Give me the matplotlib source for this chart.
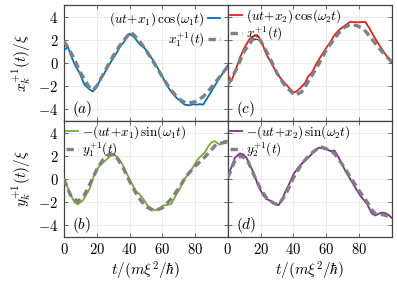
import numpy as np
import matplotlib
matplotlib.use("Agg")
from matplotlib import pyplot as plt

plt.rcParams['mathtext.fontset'] = 'cm'
plt.rcParams['font.family'] = 'serif'
plt.rcParams['font.serif'] = ['cmr10', 'DejaVu Serif']
plt.rcParams['axes.formatter.use_mathtext'] = True
plt.rcParams['axes.unicode_minus'] = True

# panel (a): x-component, particle 1
t_a = [0, 2.4, 4.4, 7, 9.5, 12.5, 15, 17.6, 20, 21.7, 25, 27.8, 31, 34, 37, 40, 43, 46, 49,
       51.3, 54, 56.4, 59.5, 62.5, 65.5, 68.6, 71, 73.7, 77, 79, 80.8, 83, 84.9, 88, 91, 94, 97, 100]
sim_a = [1.05, 1.4, 0.6, -0.26, -0.85, -1.87, -2.2, -2.46, -2.1, -1.58, -0.8, -0.1, 0.6, 1.34, 1.9,
         2.52, 2.2, 1.64, 1.3, 0.9, 0.3, -0.26, -1.0, -1.87, -2.5, -3.0, -3.3, -3.6, -3.65, -3.55,
         -3.6, -3.55, -3.6, -2.9, -2.2, -1.5, -0.85, -0.2]
tt_a = [0, 5, 10, 15, 17.6, 20, 25, 30, 35, 40.7, 45, 50, 55, 60, 65, 70, 74.7, 80, 85, 90, 95, 100]
th_a = [1.9, 0.7, -0.8, -2.0, -2.35, -2.0, -0.7, 0.6, 1.7, 2.66, 2.1, 1.1, 0.0, -1.2, -2.3, -3.1,
        -3.48, -3.35, -2.9, -2.1, -1.2, -0.3]

# panel (c): x-component, particle 2
t_c = [0, 2.2, 5.2, 7.4, 10.2, 13.3, 16.6, 18.5, 20.7, 23.4, 26.5, 29.5, 32, 34.5, 37, 40, 42,
       44.2, 47.1, 49.1, 51.2, 53.5, 56.3, 59.5, 62.4, 65, 67.5, 71.6, 74.6, 79, 83.8, 86.5, 89,
       92.5, 96, 100]
sim_c = [-1.1, -1.55, -0.41, 0.47, 1.34, 2.08, 2.37, 2.3, 1.78, 0.76, 0.0, -0.8, -1.3, -1.7, -2.1,
         -2.55, -2.45, -2.16, -1.72, -1.14, -0.85, -0.2, 0.47, 1.2, 1.78, 2.4, 2.8, 3.25, 3.54, 3.5,
         3.54, 2.95, 2.3, 1.5, 0.76, 0.0]
tt_c = [0, 5, 10, 15, 17.6, 20, 25, 30, 35, 41, 45, 50, 55, 60, 65, 70, 75, 79, 83, 87, 91, 95, 100]
th_c = [-1.87, -0.6, 1.0, 2.0, 2.17, 1.9, 0.6, -0.9, -2.0, -2.8, -2.5, -1.4, -0.2, 1.1, 2.1, 3.0,
        3.33, 3.2, 2.9, 2.2, 1.49, 0.8, 0.1]

# panel (b): y-component, particle 1
t_b = [0, 4.4, 6.4, 8.4, 11.5, 13.5, 15.6, 18.7, 21.7, 25.8, 29.8, 32.9, 35.5, 38, 42, 44.2, 46,
       48.3, 51.3, 55.4, 58, 60.4, 62.5, 65.5, 67.5, 70.6, 73.5, 76.8, 79.5, 81.8, 86, 88, 90, 92,
       95, 96.5, 98, 100]
sim_b = [0, -1.43, -2.0, -2.2, -1.86, -1.4, -0.86, 0.43, 1.14, 1.65, 2.18, 1.84, 1.3, 0.55, -0.57,
         -1.1, -1.3, -1.72, -2.35, -2.7, -2.6, -2.29, -2.25, -2.15, -1.6, -0.86, 0.0, 0.57, 1.2,
         1.72, 2.29, 2.8, 3.14, 3.26, 2.95, 3.15, 3.28, 3.3]
tt_b = [0, 4, 8.5, 12, 16, 20, 24, 28, 32, 36, 40, 45, 50, 55, 60, 65, 70, 75, 80, 84, 88, 93,
        98, 100]
th_b = [0, -1.4, -1.95, -1.5, -0.4, 0.8, 1.7, 2.17, 1.9, 1.0, -0.2, -1.5, -2.4, -2.75, -2.5, -1.8,
        -0.8, 0.3, 1.1, 1.6, 2.2, 3.0, 3.14, 3.2]

# panel (d): y-component, particle 2
t_d = [0, 4.3, 7.3, 9.5, 11.4, 13.5, 15.5, 18.5, 21.6, 23.7, 25.7, 28.7, 31, 33, 34.9, 37.5,
       40, 43, 46, 48.5, 52, 55.5, 58, 60.4, 62.5, 65, 67, 69.5, 72, 74.6, 77.5, 80.7, 84.8, 87.9,
       89.9, 92, 94, 96, 98, 100]
sim_d = [0.2, 1.83, 2.2, 2.1, 1.8, 1.2, 0.57, -0.57, -1.43, -1.75, -1.86, -2.2, -2.25, -1.8,
         -1.15, -0.4, 0.4, 1.0, 1.45, 1.75, 2.3, 2.7, 2.63, 2.55, 2.4, 2.45, 2.0, 1.29, 0.6, 0.0,
         -0.7, -1.43, -2.15, -3.0, -3.15, -3.0, -2.9, -2.95, -3.1, -3.37]
tt_d = [0, 4, 8, 12, 16, 20, 24, 28, 31, 35, 40, 45, 50, 55, 57, 60, 65, 70, 75, 80, 85, 88, 90,
        95, 100]
th_d = [0.1, 1.5, 2.0, 1.6, 0.3, -0.9, -1.7, -2.1, -2.2, -1.4, 0.1, 1.3, 2.1, 2.65, 2.75, 2.6,
        2.2, 1.2, 0.1, -1.0, -2.0, -2.7, -3.0, -3.1, -3.3]

panels = [
    (0, 0, t_a, sim_a, tt_a, th_a, '#0072bd', r'$(ut\!+\!x_1)\,\cos(\omega_1 t)$', r'$x_1^{+1}(t)$', '$(a)$'),
    (0, 1, t_c, sim_c, tt_c, th_c, '#e02020', r'$(ut\!+\!x_2)\,\cos(\omega_2 t)$', r'$x_2^{+1}(t)$', '$(c)$'),
    (1, 0, t_b, sim_b, tt_b, th_b, '#77ac30', r'$-(ut\!+\!x_1)\,\sin(\omega_1 t)$', r'$y_1^{+1}(t)$', '$(b)$'),
    (1, 1, t_d, sim_d, tt_d, th_d, '#7e2f8e', r'$-(ut\!+\!x_2)\,\sin(\omega_2 t)$', r'$y_2^{+1}(t)$', '$(d)$'),
]

fig, axs = plt.subplots(2, 2, figsize=(3.97, 2.9), dpi=100)
fig.subplots_adjust(left=0.161, right=0.987, top=0.983, bottom=0.183, hspace=0, wspace=0)

for r, c, t, sim, tt, th, col, lab1, lab2, tag in panels:
    ax = axs[r, c]
    ax.plot(t, sim, color=col, lw=1.3, label=lab1, zorder=3)
    ax.plot(tt, th, color='#808080', lw=2.4, dashes=(2.2, 1.3), label=lab2, zorder=4)
    ax.set_xlim(0, 100)
    ax.set_ylim(-5, 5)
    ax.set_xticks([0, 20, 40, 60, 80])
    ax.set_yticks([-4, -2, 0, 2, 4])
    ax.grid(True, color='#e8e8e8', lw=0.6)
    ax.set_axisbelow(True)
    ax.tick_params(direction='in', top=True, right=True, length=3, width=0.6,
                   color='#555555', labelsize=10.5, pad=4)
    for s in ax.spines.values():
        s.set_color('#444444')
        s.set_linewidth(0.9)
    if r == 0:
        ax.tick_params(labelbottom=False)
    else:
        ax.set_xlabel(r'$t/(m\xi^2/\hbar)$', fontsize=11, labelpad=2)
    if c == 1:
        ax.tick_params(labelleft=False)
    ax.text(0.05, 0.1, tag, transform=ax.transAxes, fontsize=11, va='center')
    if r == 0 and c == 0:
        ax.legend(loc='upper right', markerfirst=False, frameon=False, fontsize=9.5,
                  handlelength=0.9, handletextpad=0.3, labelspacing=0.2, borderaxespad=0.2,
                  borderpad=0.2, bbox_to_anchor=(0.985, 1.0))
    else:
        ax.legend(loc='upper left', frameon=False, fontsize=9.5, handlelength=0.9,
                  handletextpad=0.3, labelspacing=0.0, borderaxespad=0.05,
                  borderpad=0.1)

axs[0, 0].set_ylabel(r'$x_k^{+1}(t)/\xi$', fontsize=11, labelpad=3)
axs[1, 0].set_ylabel(r'$y_k^{+1}(t)/\xi$', fontsize=11, labelpad=3)

plt.savefig('out.png', dpi=100)
